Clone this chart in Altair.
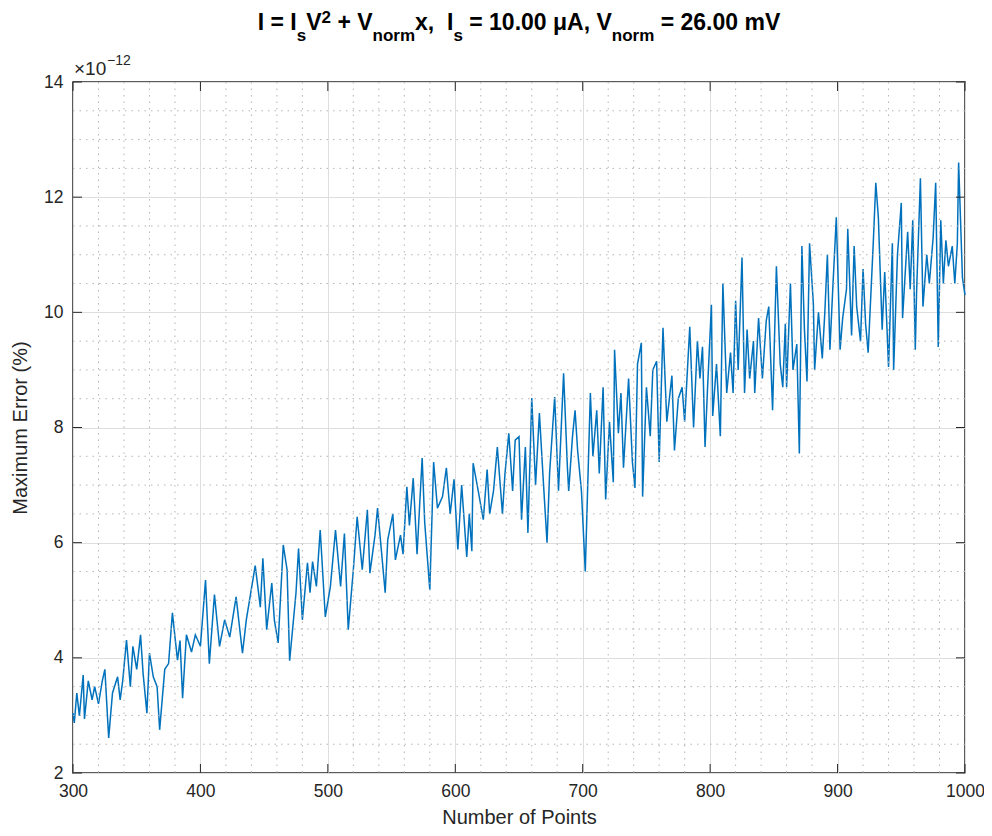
import altair as alt
import pandas as pd

# ---------------- data (error values in units of 1e-12 %) ----------------
N_300 = [300, 301, 303, 305, 308, 309, 312, 315, 317, 320, 323, 325, 328, 331, 335, 337, 339, 342, 345, 347,
         350, 353, 355, 358, 360, 363, 366, 368, 372, 375, 378, 382, 384, 386, 389, 393, 396]
E_300 = [3.04, 2.87, 3.39, 2.99, 3.70, 2.94, 3.60, 3.27, 3.50, 3.20, 3.60, 3.80, 2.61, 3.39, 3.67, 3.27, 3.60, 4.31, 3.50, 4.20,
         3.80, 4.40, 3.73, 3.04, 4.08, 3.67, 3.50, 2.75, 3.80, 3.90, 4.78, 3.96, 4.30, 3.30, 4.40, 4.10, 4.40]

N_400 = [400, 404, 407, 411, 415, 419, 423, 428, 433, 436, 443, 447, 449, 452, 456, 458, 461, 465, 468, 470,
         475, 477, 480, 484, 486, 488, 491, 494, 498]
E_400 = [4.20, 5.35, 3.90, 5.10, 4.20, 4.66, 4.36, 5.06, 4.08, 4.66, 5.60, 4.88, 5.73, 4.49, 5.30, 4.66, 4.26, 5.96, 5.53, 3.95,
         5.13, 5.90, 4.66, 5.65, 5.13, 5.67, 5.24, 6.22, 4.71]

N_500 = [502, 506, 510, 513, 516, 520, 523, 527, 531, 533, 537, 539, 545, 547, 551, 553, 557, 559, 562, 564,
         567, 570, 574, 576, 580, 583, 586, 590, 593, 596, 599]
E_500 = [5.24, 6.22, 5.24, 6.16, 4.49, 5.53, 6.45, 5.53, 6.57, 5.47, 6.13, 6.60, 5.13, 6.05, 6.50, 5.70, 6.13, 5.80, 6.97, 6.30,
         7.12, 5.80, 7.47, 6.35, 5.18, 7.40, 6.60, 6.80, 7.30, 6.50, 7.10]

N_600 = [602, 605, 609, 611, 613, 614, 618, 622, 625, 627, 630, 633, 637, 639, 642, 645, 647, 650, 652, 655,
         657, 660, 663, 666, 669, 672, 674, 678, 681, 685, 688, 689, 692, 694, 696, 699]
E_600 = [5.88, 7.00, 5.75, 6.50, 5.85, 7.38, 6.90, 6.40, 7.27, 6.50, 6.90, 7.66, 6.50, 7.20, 7.90, 6.90, 7.78, 7.84, 6.40, 7.66,
         6.17, 8.51, 7.00, 8.25, 7.10, 6.00, 7.20, 8.53, 6.90, 8.94, 7.30, 6.90, 7.85, 8.30, 7.60, 6.90]

N_700 = [702, 706, 708, 711, 713, 716, 718, 721, 724, 725, 728, 730, 732, 736, 739, 741, 743, 746, 747, 750,
         753, 755, 758, 760, 763, 766, 770, 772, 775, 778, 780, 784, 787, 790, 792, 794, 796, 798]
E_700 = [5.50, 8.60, 7.50, 8.30, 7.20, 8.70, 6.75, 8.10, 7.05, 9.35, 7.90, 8.60, 7.30, 8.85, 7.40, 6.95, 9.10, 9.47, 6.80, 8.70,
         7.85, 9.00, 9.15, 7.40, 9.73, 8.10, 8.90, 7.60, 8.50, 8.70, 8.10, 9.75, 8.00, 9.50, 8.85, 9.40, 7.66, 8.70]

N_800 = [801, 802, 805, 808, 810, 813, 816, 818, 820, 822, 825, 827, 829, 831, 834, 835, 838, 841, 844, 846,
         849, 852, 855, 857, 859, 860, 863, 865, 868, 870, 872, 874, 876, 878, 881, 882, 885, 888, 890, 892,
         894, 896, 899]
E_800 = [10.13, 8.20, 9.10, 7.85, 10.50, 8.60, 9.30, 8.60, 10.20, 9.00, 10.95, 8.60, 9.70, 8.85, 9.50, 8.60, 9.90, 8.85, 9.85, 10.10,
         8.30, 10.80, 9.10, 8.70, 9.80, 8.70, 10.50, 9.00, 9.45, 7.55, 11.15, 9.70, 8.80, 11.20, 10.15, 9.00, 10.00, 9.20, 10.00, 11.00,
         9.35, 10.30, 11.65]

N_900 = [902, 904, 907, 908, 911, 913, 915, 918, 920, 922, 924, 928, 930, 932, 935, 937, 940, 943, 944, 947,
         950, 951, 955, 957, 959, 961, 962, 965, 967, 970, 972, 975, 977, 979, 981, 983, 985, 987, 990, 992,
         994, 995, 998, 1000]
E_900 = [9.35, 9.90, 10.40, 11.45, 9.60, 11.15, 10.10, 9.50, 10.75, 9.80, 9.30, 11.20, 12.25, 11.65, 9.70, 10.70, 9.05, 11.20, 9.00, 11.00,
         11.90, 9.90, 11.40, 10.40, 11.60, 9.35, 10.35, 12.33, 10.10, 11.00, 10.50, 11.30, 12.25, 9.40, 11.60, 10.50, 11.25, 10.80, 11.15, 10.50,
         11.20, 12.60, 10.60, 10.30]

X_MAJOR = [300, 400, 500, 600, 700, 800, 900, 1000]
Y_MAJOR = [2, 4, 6, 8, 10, 12, 14]
X_MINOR = [v for v in range(320, 1000, 20) if v % 100 != 0]
Y_MINOR = [v / 2 for v in range(5, 28) if v % 4 != 0]

X_TITLE = "Number of Points"
Y_TITLE = "Maximum Error (%)"
EXPONENT = "−12"
TITLE_SEGMENTS = [("I = I", "main"), ("s", "sub"), ("V", "main"), ("2", "sup"), (" + V", "main"),
                  ("norm", "sub"), ("x,", "main"), ("  I", "main"), ("s", "sub"),
                  (" = 10.00 μA, V", "main"), ("norm", "sub"), (" = 26.00 mV", "main")]

# ---------------- layout ----------------
W, H = 892, 691
FONT = "Liberation Sans"
AX = "#262626"
BLUE = "#0072BD"
TICK = 9
LBL = 17.5

N_ALL = N_300 + N_400 + N_500 + N_600 + N_700 + N_800 + N_900
E_ALL = E_300 + E_400 + E_500 + E_600 + E_700 + E_800 + E_900
line_df = pd.DataFrame({"n": N_ALL, "err": E_ALL, "i": list(range(len(N_ALL)))})

xs = alt.Scale(domain=[300, 1000], nice=False, zero=False)
ys = alt.Scale(domain=[2, 14], nice=False, zero=False)

x_axis = alt.Axis(values=X_MAJOR, grid=True, gridColor="#dedede", gridWidth=1, ticks=False, tickSize=0,
                  domain=False, labelFont=FONT, labelFontSize=LBL, labelColor=AX, labelPadding=9,
                  labelFlush=False, labelOverlap=False, format="d",
                  title=X_TITLE, titleFont=FONT, titleFontSize=20, titleFontWeight="normal", titleColor=AX,
                  titleY=50, titleBaseline="alphabetic")
y_axis = alt.Axis(values=Y_MAJOR, grid=True, gridColor="#dedede", gridWidth=1, ticks=False, tickSize=0,
                  domain=False, labelFont=FONT, labelFontSize=LBL, labelColor=AX, labelPadding=10,
                  labelFlush=False, labelOverlap=False, format="d",
                  title=Y_TITLE, titleFont=FONT, titleFontSize=20, titleFontWeight="normal", titleColor=AX,
                  titleX=-53, titleY=H / 2, titleAngle=-90, titleAlign="center", titleBaseline="middle")


def X(field="n"):
    return alt.X(f"{field}:Q", scale=xs, axis=x_axis)


def Y(field="err"):
    return alt.Y(f"{field}:Q", scale=ys, axis=y_axis)


line = alt.Chart(line_df).mark_line(color=BLUE, strokeWidth=1.5).encode(
    x=X(), y=Y(), order="i:Q",
)

minor_x = alt.Chart(pd.DataFrame({"n": X_MINOR})).mark_rule(
    color="#b5b5b5", strokeWidth=1, strokeDash=[1.5, 5]).encode(x=X())
minor_y = alt.Chart(pd.DataFrame({"err": Y_MINOR})).mark_rule(
    color="#b5b5b5", strokeWidth=1, strokeDash=[1.5, 5]).encode(y=Y())

xt = pd.DataFrame({"n": X_MAJOR})
yt = pd.DataFrame({"err": Y_MAJOR})
tick_b = alt.Chart(xt).mark_rule(color=AX, strokeWidth=1).encode(
    x=X(), y=alt.value(H), y2=alt.value(H - TICK))
tick_t = alt.Chart(xt).mark_rule(color=AX, strokeWidth=1).encode(
    x=X(), y=alt.value(0), y2=alt.value(TICK))
tick_l = alt.Chart(yt).mark_rule(color=AX, strokeWidth=1).encode(
    y=Y(), x=alt.value(0), x2=alt.value(TICK))
tick_r = alt.Chart(yt).mark_rule(color=AX, strokeWidth=1).encode(
    y=Y(), x=alt.value(W), x2=alt.value(W - TICK))

# ---------------- title with sub/superscripts ----------------
ADV = {' ': 278, 'I': 278, '=': 584, 's': 556, 'V': 667, '2': 556, '+': 584, 'n': 611, 'o': 611, 'r': 389,
       'm': 889, 'x': 556, ',': 278, '1': 556, '0': 556, '.': 278, 'μ': 611, 'A': 722, '6': 556}
SIZE = {"main": 23, "sub": 17, "sup": 17}
BASE = {"main": -52, "sub": -41, "sup": -59}


def adv(txt, fs):
    return sum(ADV.get(c, 556) for c in txt) / 1000.0 * fs


total = sum(adv(t, SIZE[k]) for t, k in TITLE_SEGMENTS)
cur = W / 2 - total / 2
text_layers = []
for t, k in TITLE_SEGMENTS:
    fs = SIZE[k]
    lead = len(t) - len(t.lstrip(" "))
    stripped = t.strip(" ")
    xpos = cur + adv(" " * lead, fs)
    text_layers.append(
        alt.Chart(pd.DataFrame({"t": [stripped]})).mark_text(
            font=FONT, fontSize=fs, fontWeight="bold", color="#000000", align="left", baseline="alphabetic"
        ).encode(text="t:N", x=alt.value(xpos), y=alt.value(BASE[k]))
    )
    cur += adv(t, fs)

exp_main = alt.Chart(pd.DataFrame({"t": ["×10"]})).mark_text(
    font=FONT, fontSize=19, color=AX, align="left", baseline="alphabetic"
).encode(text="t:N", x=alt.value(1), y=alt.value(-7))
exp_sup = alt.Chart(pd.DataFrame({"t": [EXPONENT]})).mark_text(
    font=FONT, fontSize=14, color=AX, align="left", baseline="alphabetic"
).encode(text="t:N", x=alt.value(34), y=alt.value(-17))

chart = alt.layer(
    line, minor_x, minor_y, tick_b, tick_t, tick_l, tick_r, exp_main, exp_sup, *text_layers
).properties(
    width=W, height=H,
    autosize=alt.AutoSizeParams(type="none"),
    padding={"left": 65, "top": 74, "right": 19, "bottom": 55},
    background="white",
).configure_view(stroke=AX, strokeWidth=1.5)

chart.save("out.html", embed_options={"renderer": "svg", "actions": False})
